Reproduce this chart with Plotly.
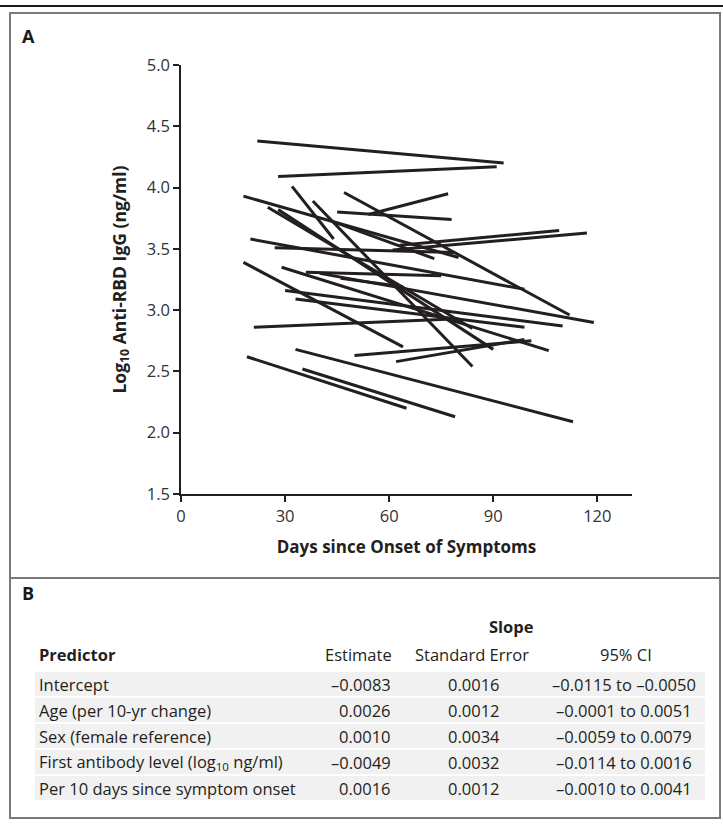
import plotly.graph_objects as go

# ---- Panel A data: each participant's line (start day, start value, end day, end value)
start_day = [22, 28, 18, 32, 47, 54, 45, 38, 25, 28, 20, 27, 63, 61, 18, 29, 36, 30, 33, 21, 19, 33, 35, 50, 62, 40, 44, 46]
start_val = [4.38, 4.09, 3.93, 4.01, 3.96, 3.78, 3.80, 3.89, 3.84, 3.82, 3.58, 3.51, 3.53, 3.49, 3.39, 3.35, 3.31, 3.16, 3.09, 2.86, 2.62, 2.68, 2.52, 2.63, 2.58, 3.30, 3.72, 3.26]
end_day = [93, 91, 80, 44, 112, 77, 78, 84, 84, 90, 99, 79, 109, 117, 64, 106, 75, 110, 99, 80, 65, 113, 79, 101, 99, 119, 73, 64]
end_val = [4.20, 4.17, 3.43, 3.58, 2.96, 3.95, 3.74, 2.54, 2.85, 2.68, 3.17, 3.47, 3.65, 3.63, 2.70, 2.67, 3.28, 2.87, 2.86, 2.93, 2.20, 2.09, 2.13, 2.75, 2.76, 2.90, 3.42, 3.19]

x_ticks = [0, 30, 60, 90, 120]
y_ticks = [1.5, 2.0, 2.5, 3.0, 3.5, 4.0, 4.5, 5.0]

# ---- Panel B data
predictors = ["Intercept", "Age (per 10-yr change)", "Sex (female reference)",
              "First antibody level (log<sub>10</sub> ng/ml)", "Per 10 days since symptom onset"]
estimates = ["\u20130.0083", "0.0026", "0.0010", "\u20130.0049", "0.0016"]
std_errors = ["0.0016", "0.0012", "0.0034", "0.0032", "0.0012"]
ci95 = ["\u20130.0115 to \u20130.0050", "\u20130.0001 to 0.0051", "\u20130.0059 to 0.0079",
        "\u20130.0114 to 0.0016", "\u20130.0010 to 0.0041"]

W, H = 723, 829
L, R, T, B = 181, 632, 65, 494  # plot area in pixels


def px(x):
    return (x - L) / (R - L)


def py(y):
    return (B - y) / (B - T)


LINE = "#231f20"
FONT = "Open Sans"

fig = go.Figure()
for sd, sv, ed, ev in zip(start_day, start_val, end_day, end_val):
    fig.add_trace(go.Scatter(x=[sd, ed], y=[sv, ev], mode="lines",
                             line=dict(color=LINE, width=3), showlegend=False,
                             hoverinfo="skip"))

shapes = []
annotations = []

# top rule and panel boxes
shapes.append(dict(type="line", xref="paper", yref="paper", x0=px(0), x1=px(W), y0=py(6), y1=py(6),
                   line=dict(color="#1a1a1a", width=2)))
shapes.append(dict(type="rect", xref="paper", yref="paper", x0=px(10), x1=px(720), y0=py(13), y1=py(578),
                   line=dict(color="#7a7a7a", width=2)))
shapes.append(dict(type="rect", xref="paper", yref="paper", x0=px(10), x1=px(720), y0=py(578), y1=py(818),
                   line=dict(color="#7a7a7a", width=2)))

annotations.append(dict(text="<b>A</b>", xref="paper", yref="paper", x=px(20), y=py(36), xanchor="left",
                        yanchor="middle", showarrow=False, font=dict(family=FONT, size=18, color="#1a1a1a")))
annotations.append(dict(text="<b>B</b>", xref="paper", yref="paper", x=px(20), y=py(593), xanchor="left",
                        yanchor="middle", showarrow=False, font=dict(family=FONT, size=18, color="#1a1a1a")))

# table
row_y = [684, 710, 736, 762, 788]
row_h = 26
for yc in row_y:
    shapes.append(dict(type="rect", xref="paper", yref="paper", x0=px(35), x1=px(705),
                       y0=py(yc - row_h / 2 + 1), y1=py(yc + row_h / 2 - 1),
                       fillcolor="#f1f1f1", line=dict(width=0), layer="below"))

tf = dict(family=FONT, size=16.5, color="#231f20")
annotations.append(dict(text="<b>Slope</b>", xref="paper", yref="paper", x=px(511), y=py(626),
                        xanchor="center", yanchor="middle", showarrow=False, font=tf))
annotations.append(dict(text="<b>Predictor</b>", xref="paper", yref="paper", x=px(37), y=py(654),
                        xanchor="left", yanchor="middle", showarrow=False, font=tf))
annotations.append(dict(text="Estimate", xref="paper", yref="paper", x=px(394), y=py(654),
                        xanchor="right", yanchor="middle", showarrow=False, font=tf))
annotations.append(dict(text="Standard Error", xref="paper", yref="paper", x=px(472), y=py(654),
                        xanchor="center", yanchor="middle", showarrow=False, font=tf))
annotations.append(dict(text="95% CI", xref="paper", yref="paper", x=px(626), y=py(654),
                        xanchor="center", yanchor="middle", showarrow=False, font=tf))
for yc, p, e, s, c in zip(row_y, predictors, estimates, std_errors, ci95):
    annotations.append(dict(text=p, xref="paper", yref="paper", x=px(37), y=py(yc),
                            xanchor="left", yanchor="middle", showarrow=False, font=tf))
    annotations.append(dict(text=e, xref="paper", yref="paper", x=px(393), y=py(yc),
                            xanchor="right", yanchor="middle", showarrow=False, font=tf))
    annotations.append(dict(text=s, xref="paper", yref="paper", x=px(474), y=py(yc),
                            xanchor="center", yanchor="middle", showarrow=False, font=tf))
    annotations.append(dict(text=c, xref="paper", yref="paper", x=px(624), y=py(yc),
                            xanchor="center", yanchor="middle", showarrow=False, font=tf))

axfont = dict(family=FONT, size=16.5, color="#333333")
fig.update_layout(
    width=W, height=H,
    margin=dict(l=L, r=W - R, t=T, b=H - B, pad=0),
    paper_bgcolor="white", plot_bgcolor="white",
    shapes=shapes, annotations=annotations,
    xaxis=dict(range=[0, 130], tickvals=x_ticks, ticktext=[str(v) for v in x_ticks],
               showgrid=False, zeroline=False, showline=True, linecolor="#231f20", linewidth=1.5,
               ticks="outside", ticklen=6, tickwidth=1.5, tickcolor="#231f20", tickfont=axfont,
               title=dict(text="<b>Days since Onset of Symptoms</b>", standoff=16,
                          font=dict(family=FONT, size=17, color="#231f20"))),
    yaxis=dict(range=[1.5, 5.0], tickvals=y_ticks, ticktext=["%.1f" % v for v in y_ticks],
               showgrid=False, zeroline=False, showline=True, linecolor="#231f20", linewidth=1.5,
               ticks="outside", ticklen=6, tickwidth=1.5, tickcolor="#231f20", tickfont=axfont,
               title=dict(text="<b>Log<sub>10</sub> Anti-RBD IgG (ng/ml)</b>", standoff=16,
                          font=dict(family=FONT, size=17.5, color="#231f20"))),
)

fig.write_html("out.html", config={"displayModeBar": False},
               post_script="document.body.style.margin='0';document.body.style.overflow='hidden';")
